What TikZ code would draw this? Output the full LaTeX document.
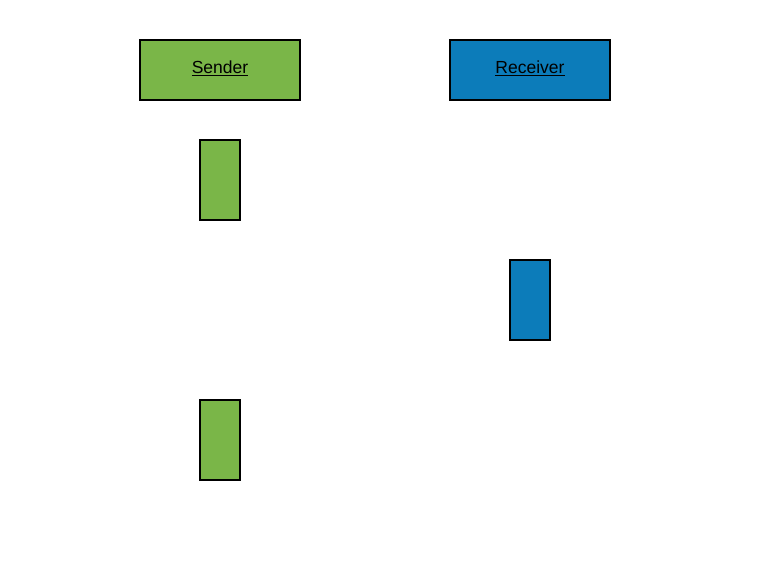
\documentclass[tikz,border=0pt]{standalone}
\usepackage{fontspec}
\setmainfont{Liberation Sans}
\definecolor{sgreen}{HTML}{7AB648}
\definecolor{sblue}{HTML}{0C7CBA}
\tikzset{
  head/.style={draw=black, line width=2pt, minimum width=160pt, minimum height=60pt, inner sep=0pt, text height=12pt, text depth=5pt, font=\fontsize{17.5}{20}\selectfont},
  bar/.style={draw=black, line width=2pt, minimum width=40pt, minimum height=80pt, inner sep=0pt},
}
\begin{document}
\begin{tikzpicture}[x=1pt,y=-1pt]
\useasboundingbox (0,0) rectangle (760,560);
\node[head, fill=sgreen] (sender) at (220,70) {\underline{Sender}};
\node[head, fill=sblue] (receiver) at (530,70) {\underline{Receiver}};
\node[bar, fill=sgreen] (s1) at (220,180) {};
\node[bar, fill=sblue] (r1) at (530,300) {};
\node[bar, fill=sgreen] (s2) at (220,440) {};
\end{tikzpicture}
\end{document}
